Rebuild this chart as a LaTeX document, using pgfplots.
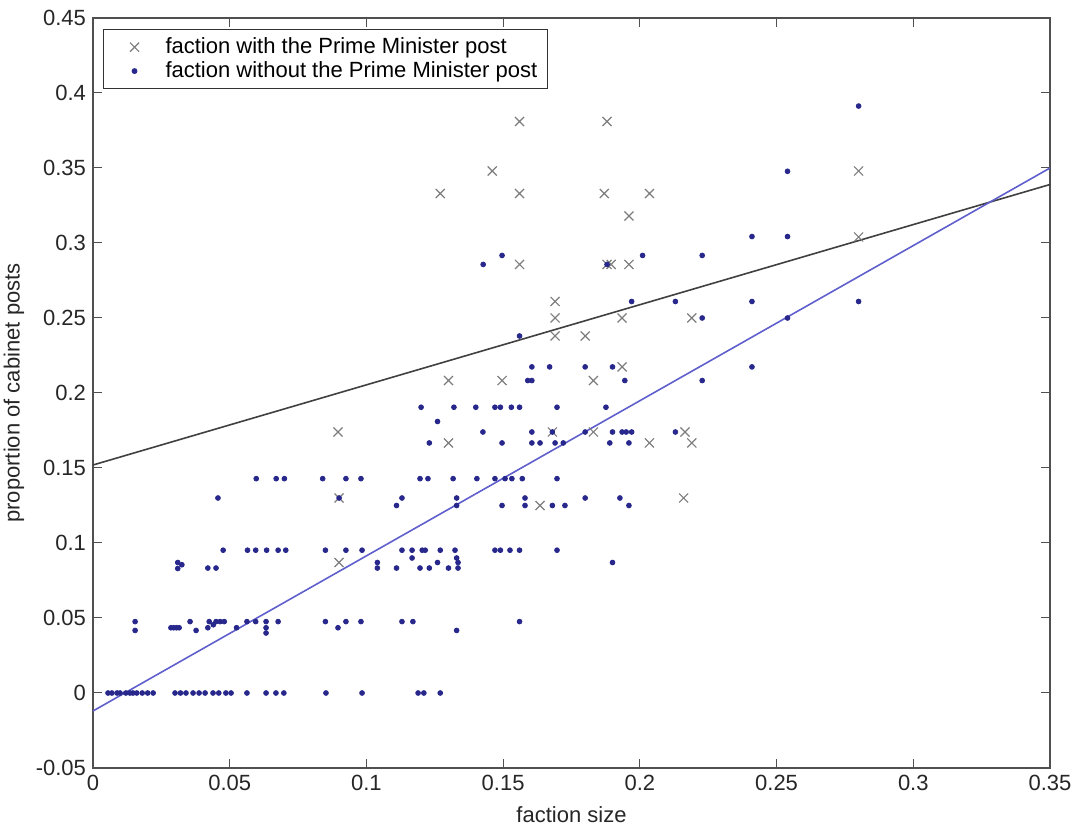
\documentclass[border=0pt]{standalone}
\usepackage{fontspec}
\setmainfont{Liberation Sans}
\usepackage{pgfplots}
\pgfplotsset{compat=1.18}
\definecolor{pmgray}{RGB}{125,125,125}
\definecolor{dotblue}{RGB}{40,40,140}
\definecolor{fitblue}{RGB}{95,95,205}
\definecolor{axgray}{RGB}{80,80,80}
\newcommand{\lab}{\fontsize{11bp}{13bp}\selectfont}

\begin{document}
\begin{tikzpicture}
\begin{axis}[
  scale only axis, width=478.5bp, height=375bp,
  xmin=0, xmax=0.35, ymin=-0.05, ymax=0.45,
  xtick={0,0.05,0.1,0.15,0.2,0.25,0.3,0.35},
  ytick={-0.05,0,0.05,0.1,0.15,0.2,0.25,0.3,0.35,0.4,0.45},
  scaled ticks=false,
  tick align=inside, xtick pos=both, ytick pos=both,
  major tick length=4.5bp,
  axis line style={axgray, line width=0.6bp},
  every tick/.style={axgray, line width=0.5bp},
  tick label style={font=\lab, text=black!85},
  /pgf/number format/assume math mode=true,
  /pgf/number format/fixed, /pgf/number format/precision=2,
  xlabel={faction size}, ylabel={proportion of cabinet posts},
  label style={font=\lab, text=black!85},
  xlabel style={at={(axis description cs:0.5,-0.0627)}, anchor=center},
  ylabel style={at={(axis description cs:-0.0825,0.5)}, anchor=center},
  legend style={at={(0.0105,0.985)}, anchor=north west, draw=black!80,
    line width=0.5bp, font=\lab, row sep=-1.5bp, inner xsep=3bp},
  legend cell align=left,
  legend image code/.code={\path[draw=none] (0bp,0bp) -- (26bp,0bp);
    \draw[#1, only marks] plot coordinates {(12.5bp,0bp)};},
]
\coordinate (sw) at (rel axis cs:0,0);
\coordinate (ne) at (rel axis cs:1,1);

% faction holding the PM post
\addplot[only marks, mark=x, mark size=3.2bp, pmgray, mark options={line width=0.6bp}] coordinates {
(0.156,0.381) (0.188,0.381) (0.146,0.348)
(0.127,0.333) (0.156,0.333) (0.187,0.333) (0.2035,0.333)
(0.196,0.318)
(0.156,0.2857) (0.188,0.2857) (0.1895,0.2857) (0.196,0.2857)
(0.169,0.261) (0.169,0.25) (0.1935,0.25) (0.219,0.25)
(0.169,0.238) (0.180,0.238)
(0.1935,0.2174)
(0.130,0.2083) (0.1496,0.2083) (0.183,0.2083)
(0.0896,0.174) (0.168,0.174) (0.183,0.174) (0.2165,0.174)
(0.130,0.1667) (0.2035,0.1667) (0.219,0.1667)
(0.1635,0.125)
(0.090,0.13) (0.216,0.13)
(0.090,0.087)
(0.280,0.348) (0.280,0.304)
};
\addlegendentry{faction with the Prime Minister post}

% factions without the PM post
\addplot[only marks, mark=*, mark size=1.2bp, dotblue] coordinates {
(0.0055,0) (0.0069,0) (0.0088,0) (0.0099,0) (0.012,0) (0.0135,0) (0.0146,0)
(0.016,0) (0.018,0) (0.020,0) (0.022,0) (0.030,0) (0.032,0) (0.034,0)
(0.0366,0) (0.0388,0) (0.041,0) (0.0439,0) (0.046,0) (0.0486,0) (0.0505,0)
(0.0563,0) (0.0633,0) (0.0669,0) (0.0698,0) (0.0852,0) (0.0984,0)
(0.1189,0) (0.121,0) (0.127,0)
(0.0154,0.0476) (0.0154,0.0417) (0.0285,0.0435) (0.0295,0.0435) (0.0305,0.0435)
(0.0315,0.0435) (0.0355,0.0476) (0.0377,0.0417) (0.042,0.0435) (0.0425,0.0476)
(0.044,0.0455) (0.045,0.0476) (0.0465,0.0476) (0.048,0.0476) (0.0525,0.0435)
(0.0563,0.0476) (0.0595,0.0476) (0.0633,0.0476) (0.0633,0.0435) (0.0633,0.040)
(0.0677,0.0476) (0.085,0.0476) (0.0896,0.0435) (0.0925,0.0476) (0.098,0.0476)
(0.113,0.0476) (0.117,0.0476) (0.133,0.0417) (0.156,0.0476)
(0.031,0.087) (0.031,0.083) (0.0325,0.0855) (0.042,0.0833) (0.045,0.0833)
(0.0476,0.0952) (0.0565,0.0952) (0.0595,0.0952) (0.0635,0.0952) (0.0677,0.0952)
(0.0705,0.0952) (0.085,0.0952) (0.0925,0.0952) (0.0984,0.0952)
(0.104,0.087) (0.104,0.0833) (0.111,0.0833) (0.113,0.0952) (0.1167,0.0952)
(0.1167,0.090) (0.1204,0.0952) (0.1215,0.0952) (0.1196,0.0833) (0.123,0.0833)
(0.126,0.087) (0.127,0.0952) (0.130,0.0833) (0.1324,0.0952) (0.133,0.090)
(0.1335,0.087) (0.1335,0.0833) (0.147,0.0952) (0.149,0.0952) (0.1525,0.0952)
(0.156,0.0952) (0.1697,0.0952) (0.190,0.087)
(0.0457,0.13) (0.0597,0.1429) (0.067,0.1429) (0.070,0.1429) (0.084,0.1429)
(0.0925,0.1429) (0.098,0.1429) (0.090,0.13) (0.111,0.125) (0.113,0.13)
(0.1196,0.1429) (0.1225,0.1429) (0.1317,0.1429) (0.133,0.13) (0.133,0.125)
(0.1404,0.1429) (0.147,0.1429) (0.1507,0.1429) (0.1532,0.1429) (0.1496,0.125)
(0.157,0.1429) (0.158,0.13) (0.158,0.125) (0.168,0.125) (0.1697,0.1429)
(0.1726,0.125) (0.180,0.13) (0.1927,0.13) (0.196,0.125)
(0.120,0.1905) (0.126,0.181) (0.123,0.1667) (0.132,0.1905) (0.140,0.1905)
(0.1426,0.174) (0.147,0.1905) (0.149,0.1905) (0.1496,0.1667) (0.153,0.1905)
(0.156,0.1905) (0.1605,0.174) (0.1605,0.1667) (0.1635,0.1667) (0.169,0.1667)
(0.172,0.1667) (0.1697,0.1905) (0.168,0.174) (0.180,0.174) (0.1876,0.1905)
(0.190,0.174) (0.189,0.1667) (0.1935,0.174) (0.195,0.174) (0.197,0.174)
(0.196,0.1667) (0.213,0.174)
(0.159,0.2083) (0.1605,0.2083) (0.1605,0.2174) (0.167,0.2174) (0.180,0.2174)
(0.190,0.2174) (0.1945,0.2083) (0.2228,0.2083) (0.241,0.2174)
(0.156,0.238) (0.1427,0.2857) (0.1496,0.2917) (0.188,0.2857) (0.201,0.2917)
(0.2228,0.2917) (0.241,0.3043) (0.254,0.3043) (0.280,0.3913) (0.254,0.3478)
(0.197,0.261) (0.213,0.261) (0.241,0.261) (0.280,0.261) (0.2228,0.25) (0.254,0.25)
};
\addlegendentry{faction without the Prime Minister post}

% fitted lines
\addplot[black!75, line width=0.8bp, forget plot] coordinates {(0,0.152) (0.35,0.339)};
\addplot[fitblue, line width=0.8bp, forget plot] coordinates {(0,-0.012) (0.35,0.350)};
\end{axis}
\pgfresetboundingbox
\useasboundingbox ([xshift=-46.5bp,yshift=-31.5bp]sw) rectangle ([xshift=14.5bp,yshift=9bp]ne);
\end{tikzpicture}
\end{document}
